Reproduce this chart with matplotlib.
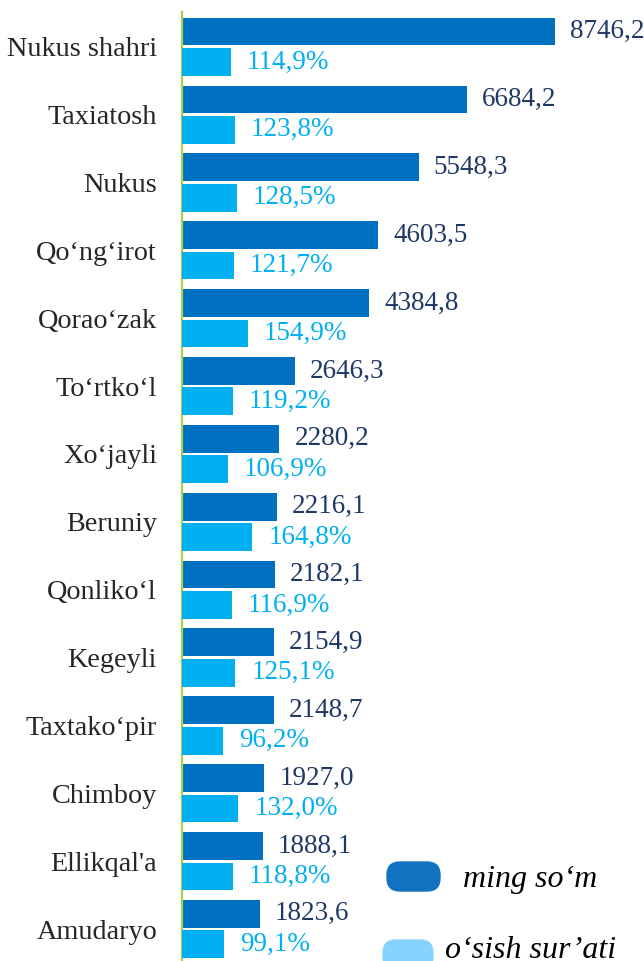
import matplotlib
matplotlib.use("Agg")
import matplotlib.pyplot as plt
from matplotlib.patches import FancyBboxPatch
from matplotlib.transforms import offset_copy

categories = ["Nukus shahri", "Taxiatosh", "Nukus", "Qo‘ng‘irot", "Qorao‘zak", "To‘rtko‘l",
              "Xo‘jayli", "Beruniy", "Qonliko‘l", "Kegeyli", "Taxtako‘pir", "Chimboy",
              "Ellikqal'a", "Amudaryo"]
ming_som = [8746.2, 6684.2, 5548.3, 4603.5, 4384.8, 2646.3, 2280.2, 2216.1, 2182.1,
            2154.9, 2148.7, 1927.0, 1888.1, 1823.6]
osish = [114.9, 123.8, 128.5, 121.7, 154.9, 119.2, 106.9, 164.8, 116.9, 125.1, 96.2,
         132.0, 118.8, 99.1]
legend_labels = ["ming so‘m", "o‘sish sur’ati"]

DARK = "#0070C0"
LIGHT = "#00B0F0"
W, H = 644, 961
fig = plt.figure(figsize=(W / 100, H / 100), dpi=100)
ax = fig.add_axes([182 / W, 0, (W - 182) / W, (961 - 12) / H])
ax2 = ax.twiny()

xmax = 10832
ax.set_xlim(0, xmax)
ax2.set_xlim(0, xmax / 10)
ax.set_ylim(13.47, -0.512)

ys = list(range(len(categories)))
off = 0.224
h = 0.41
ax.barh([y - off for y in ys], ming_som, height=h, color=DARK)
ax2.barh([y + off for y in ys], osish, height=h, color=LIGHT)

serif = ["Liberation Serif", "DejaVu Serif"]
fs = 19.5
tr1 = offset_copy(ax.transData, fig=fig, x=15, y=0, units="dots")
tr2 = offset_copy(ax2.transData, fig=fig, x=16, y=0, units="dots")
for y, v in zip(ys, ming_som):
    ax.text(v, y - off, f"{v:.1f}".replace(".", ","), transform=tr1, ha="left", va="center",
            fontsize=fs, color="#1F3864", family=serif)
for y, v in zip(ys, osish):
    ax2.text(v, y + off, f"{v:.1f}".replace(".", ",") + "%", transform=tr2, ha="left",
             va="center", fontsize=fs, color=LIGHT, family=serif)

ax.set_xticks([])
ax2.set_xticks([])
ax.set_yticks(ys)
ax.set_yticklabels(categories, fontsize=20.3, color="#262626", family=serif)
ax.tick_params(axis="y", length=0, pad=18)
ax.set_ylim(13.47, -0.512)
for a in (ax, ax2):
    for s in ["top", "right", "bottom"]:
        a.spines[s].set_visible(False)
    a.patch.set_visible(False)
ax.spines["left"].set_color("#A9D04A")
ax.spines["left"].set_linewidth(1.6)
ax2.spines["left"].set_visible(False)

# legend
def fig_box(x0, y0, x1, y1, color):
    p = FancyBboxPatch((x0 / W, 1 - y1 / H), (x1 - x0) / W, (y1 - y0) / H,
                       boxstyle=f"round,pad=0,rounding_size={13 / W}",
                       transform=fig.transFigure, color=color, mutation_aspect=W / H)
    fig.add_artist(p)

fig_box(387, 862, 440, 891, "#1272C2")
fig_box(383, 940, 433, 969, "#87D3FF")
lfs = 23
fig.text(463 / W, 1 - 880 / H, legend_labels[0], fontsize=lfs, style="italic",
         family=serif, va="center", ha="left", color="black")
fig.text(445 / W, 1 - 951 / H, legend_labels[1], fontsize=lfs, style="italic",
         family=serif, va="center", ha="left", color="black")

fig.savefig("out.png", dpi=100)
